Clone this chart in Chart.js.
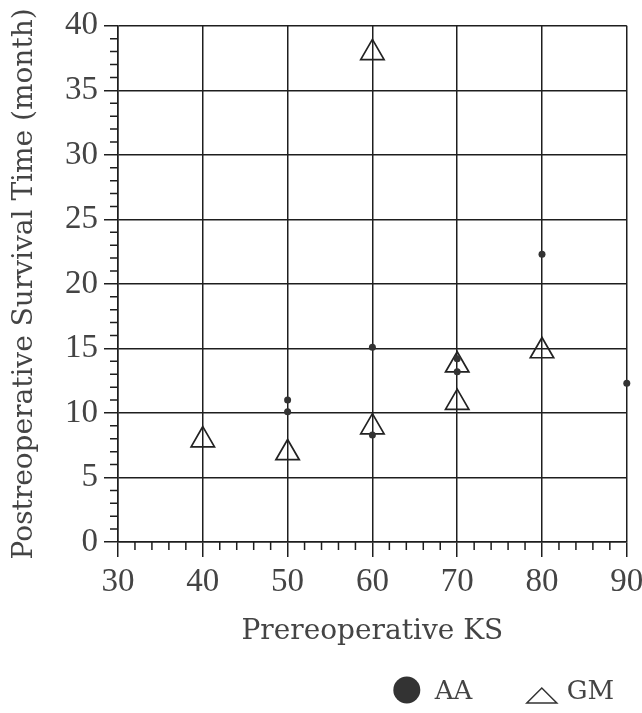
<!DOCTYPE html>
<html>
<head>
<meta charset="utf-8">
<script src="https://cdn.jsdelivr.net/npm/chart.js@4/dist/chart.umd.min.js"></script>
<style>
  html, body { margin: 0; padding: 0; background: #fff; }
  #wrap { width: 642px; height: 713px; }
</style>
</head>
<body>
<div id="wrap"><canvas id="ksChart" width="642" height="713"></canvas></div>
<script>
// Karnofsky score before surgery vs. survival after surgery
const aaPoints = [
  { x: 50, y: 11.0 }, { x: 50, y: 10.1 },
  { x: 60, y: 15.1 }, { x: 60, y: 8.3 },
  { x: 70, y: 14.2 }, { x: 70, y: 13.2 },
  { x: 80, y: 22.3 }, { x: 90, y: 12.3 }
];
const gmPoints = [
  { x: 40, y: 7.9 }, { x: 50, y: 6.9 },
  { x: 60, y: 8.9 }, { x: 60, y: 37.9 },
  { x: 70, y: 13.7 }, { x: 70, y: 10.8 },
  { x: 80, y: 14.8 }
];
const xRange = [30, 90];
const yRange = [0, 40];
const xMajorStep = 10, xMinorStep = 2;
const yMajorStep = 5, yMinorStep = 1;

const ink = '#1e1e1e';
const textInk = '#444';
const serif = 'DejaVu Serif';

// short ticks between the labelled ones
const minorTicks = {
  id: 'minorTicks',
  afterDraw(chart) {
    const { ctx, scales: { x, y } } = chart;
    ctx.save();
    ctx.strokeStyle = ink;
    ctx.lineWidth = 1.5;
    ctx.beginPath();
    for (let v = yRange[0]; v <= yRange[1]; v += yMinorStep) {
      if (v % yMajorStep === 0) continue;
      const py = y.getPixelForValue(v);
      ctx.moveTo(x.left - 8, py);
      ctx.lineTo(x.left, py);
    }
    for (let v = xRange[0]; v <= xRange[1]; v += xMinorStep) {
      if (v % xMajorStep === 0) continue;
      const px = x.getPixelForValue(v);
      ctx.moveTo(px, y.bottom);
      ctx.lineTo(px, y.bottom + 8);
    }
    ctx.stroke();
    ctx.restore();
  }
};

// legend in the lower right corner
const cornerLegend = {
  id: 'cornerLegend',
  afterDraw(chart) {
    const { ctx, chartArea } = chart;
    const ds = chart.data.datasets;
    const cy = 690;
    ctx.save();
    ctx.font = '26px "' + serif + '"';
    ctx.fillStyle = textInk;
    ctx.textBaseline = 'middle';
    ctx.textAlign = 'left';

    // AA: filled dot
    let cx = chartArea.right - 220;
    ctx.beginPath();
    ctx.fillStyle = '#333';
    ctx.arc(cx, cy, 13.5, 0, Math.PI * 2);
    ctx.fill();
    ctx.fillStyle = textInk;
    ctx.fillText(ds[0].label, cx + 28, cy + 2);

    // GM: open triangle
    cx = chartArea.right - 85;
    ctx.beginPath();
    ctx.strokeStyle = '#333';
    ctx.lineWidth = 1.5;
    ctx.moveTo(cx - 15, cy + 13);
    ctx.lineTo(cx + 15, cy + 13);
    ctx.lineTo(cx, cy - 2);
    ctx.closePath();
    ctx.stroke();
    ctx.fillText(ds[1].label, cx + 25, cy + 2);
    ctx.restore();
  }
};

new Chart(document.getElementById('ksChart'), {
  type: 'scatter',
  data: {
    datasets: [
      {
        label: 'AA',
        data: aaPoints,
        pointStyle: 'circle',
        pointRadius: 3.5,
        pointBackgroundColor: '#333',
        pointBorderColor: '#333',
        pointBorderWidth: 0,
        clip: false
      },
      {
        label: 'GM',
        data: gmPoints,
        pointStyle: 'triangle',
        pointRadius: 13.5,
        pointBackgroundColor: 'rgba(0,0,0,0)',
        pointBorderColor: '#222',
        pointBorderWidth: 1.7,
        clip: false
      }
    ]
  },
  options: {
    responsive: false,
    animation: false,
    layout: { padding: { top: 24, right: 15, bottom: 58, left: 0 } },
    plugins: {
      legend: { display: false },
      tooltip: { enabled: false }
    },
    scales: {
      x: {
        type: 'linear',
        min: xRange[0],
        max: xRange[1],
        afterFit(scale) {
          scale.height = 113;
          scale.paddingRight = 0;
          scale.paddingLeft = 0;
        },
        border: { color: ink, width: 1.5 },
        grid: { color: ink, lineWidth: 1.5, tickLength: 15, tickColor: ink },
        ticks: {
          stepSize: xMajorStep,
          padding: 6,
          color: textInk,
          font: { family: 'Liberation Serif', size: 33 }
        },
        title: {
          display: true,
          text: 'Prereoperative KS',
          color: textInk,
          font: { family: serif, size: 28 },
          padding: { top: 0, bottom: 6 }
        }
      },
      y: {
        min: yRange[0],
        max: yRange[1],
        afterFit(scale) {
          scale.width = 118;
        },
        border: { color: ink, width: 1.5 },
        grid: { color: ink, lineWidth: 1.5, tickLength: 14, tickColor: ink },
        ticks: {
          stepSize: yMajorStep,
          padding: 6,
          color: textInk,
          font: { family: 'Liberation Serif', size: 33 }
        },
        title: {
          display: true,
          text: 'Postreoperative Survival Time (month)',
          color: textInk,
          font: { family: serif, size: 28 },
          padding: { top: 8, bottom: 0 }
        }
      }
    }
  },
  plugins: [minorTicks, cornerLegend]
});
</script>
</body>
</html>
